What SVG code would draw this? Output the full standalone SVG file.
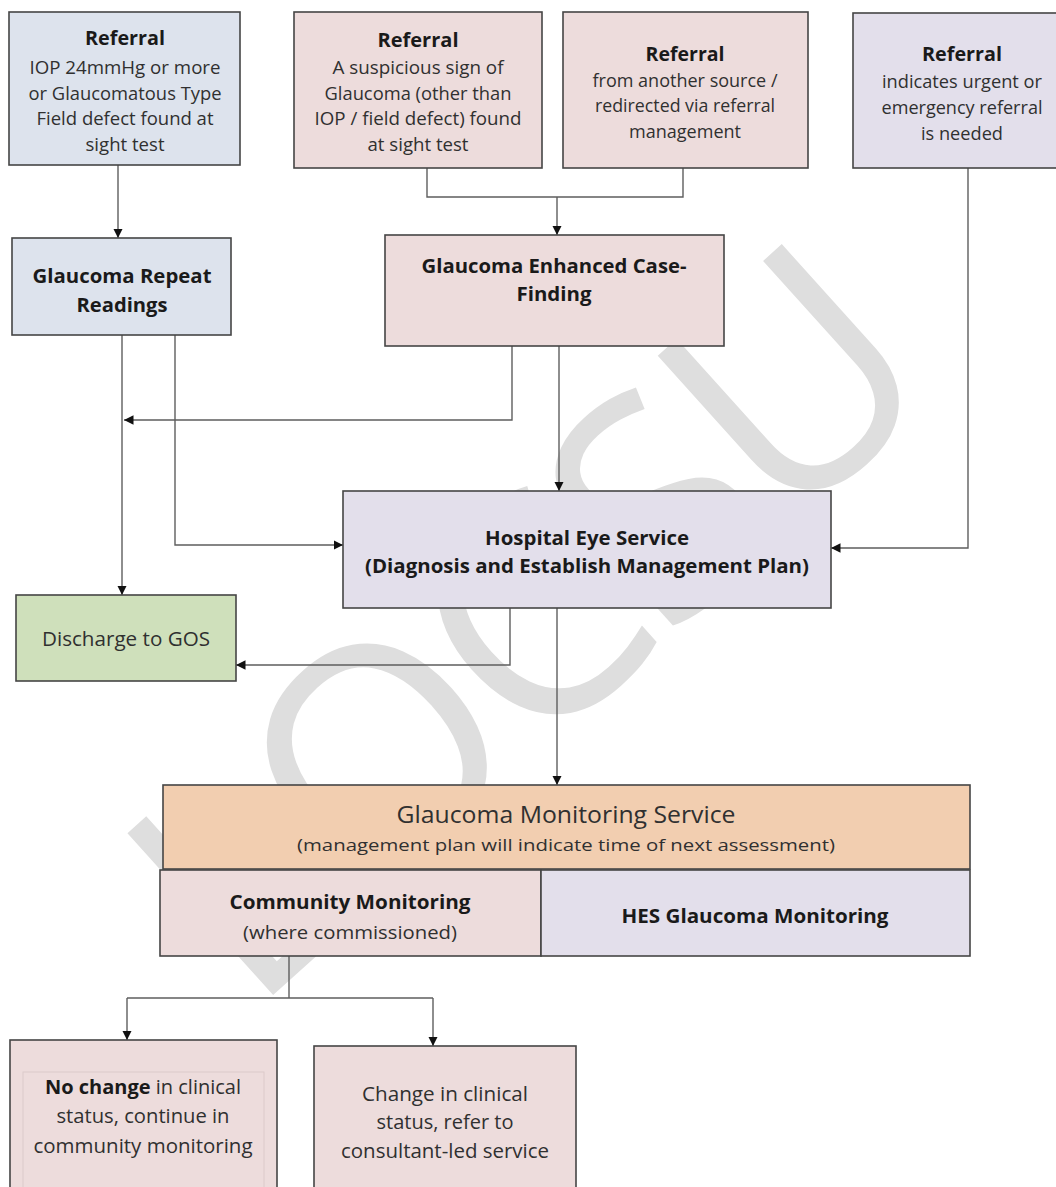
<svg xmlns="http://www.w3.org/2000/svg" width="1056" height="1187" viewBox="0 0 1056 1187">
<defs>
<marker id="ah" markerWidth="11" markerHeight="11" refX="9.5" refY="4.75" orient="auto" markerUnits="userSpaceOnUse"><path d="M0,0 L9.5,4.75 L0,9.5 z" fill="#111"/></marker>
</defs>
<style>
.box{stroke:#454545;stroke-width:1.6}
.blue{fill:#dde3ed}.pink{fill:#eddcdc}.lav{fill:#e3dfeb}.green{fill:#cfe0bb}.peach{fill:#f2ceb0}
text{font-family:"Open Sans","Liberation Sans",sans-serif;text-anchor:middle;fill:#303030}
.b{font-weight:bold;fill:#1a1a1a}
.t{font-size:18.5px}
.h{font-size:20px}
.m{font-size:20px}
.c{fill:none;stroke:#5e5e5e;stroke-width:1.4}
.wm{font-family:"Open Sans",sans-serif;font-size:305px;letter-spacing:-10px;fill:#dedede;text-anchor:start}
</style>
<rect width="1056" height="1187" fill="#ffffff"/>
<text class="wm" transform="translate(251,1015) rotate(-42)">LOCSU</text>

<g id="connectors">
<path class="c" d="M118,165 V238" marker-end="url(#ah)"/>
<path class="c" d="M427,168 V197 H683 V168"/>
<path class="c" d="M557,197 V235" marker-end="url(#ah)"/>
<path class="c" d="M122,335 V595" marker-end="url(#ah)"/>
<path class="c" d="M175,335 V545 H343" marker-end="url(#ah)"/>
<path class="c" d="M512,346 V420 H124" marker-end="url(#ah)"/>
<path class="c" d="M559,346 V491" marker-end="url(#ah)"/>
<path class="c" d="M968,168 V548 H831" marker-end="url(#ah)"/>
<path class="c" d="M510,608 V665 H236" marker-end="url(#ah)"/>
<path class="c" d="M557,608 V785" marker-end="url(#ah)"/>
<path class="c" d="M289,956 V998"/>
<path class="c" d="M127,998 H433"/>
<path class="c" d="M127,998 V1040" marker-end="url(#ah)"/>
<path class="c" d="M433,998 V1046" marker-end="url(#ah)"/>
</g>

<g id="ref-iop">
<rect class="box blue" x="9" y="12" width="231" height="153"/>
<text class="b h" x="125" y="45" textLength="80" lengthAdjust="spacingAndGlyphs">Referral</text>
<text class="t" x="125" y="74" textLength="191" lengthAdjust="spacingAndGlyphs">IOP 24mmHg or more</text>
<text class="t" x="125" y="100" textLength="193" lengthAdjust="spacingAndGlyphs">or Glaucomatous Type</text>
<text class="t" x="125" y="125" textLength="177" lengthAdjust="spacingAndGlyphs">Field defect found at</text>
<text class="t" x="125" y="151" textLength="79" lengthAdjust="spacingAndGlyphs">sight test</text>
</g>

<g id="ref-suspicious">
<rect class="box pink" x="294" y="12" width="248" height="156"/>
<text class="b h" x="418" y="47" textLength="81" lengthAdjust="spacingAndGlyphs">Referral</text>
<text class="t" x="418" y="74" textLength="171" lengthAdjust="spacingAndGlyphs">A suspicious sign of</text>
<text class="t" x="418" y="100" textLength="187" lengthAdjust="spacingAndGlyphs">Glaucoma (other than</text>
<text class="t" x="418" y="125" textLength="207" lengthAdjust="spacingAndGlyphs">IOP / field defect) found</text>
<text class="t" x="418" y="151" textLength="101" lengthAdjust="spacingAndGlyphs">at sight test</text>
</g>

<g id="ref-other">
<rect class="box pink" x="563" y="12" width="245" height="156"/>
<text class="b h" x="685" y="61" textLength="79" lengthAdjust="spacingAndGlyphs">Referral</text>
<text class="t" x="685" y="87" textLength="185" lengthAdjust="spacingAndGlyphs">from another source /</text>
<text class="t" x="685" y="112" textLength="180" lengthAdjust="spacingAndGlyphs">redirected via referral</text>
<text class="t" x="685" y="138" textLength="112" lengthAdjust="spacingAndGlyphs">management</text>
</g>

<g id="ref-urgent">
<rect class="box lav" x="853" y="13" width="220" height="155"/>
<text class="b h" x="962" y="61" textLength="80" lengthAdjust="spacingAndGlyphs">Referral</text>
<text class="t" x="962" y="88" textLength="160" lengthAdjust="spacingAndGlyphs">indicates urgent or</text>
<text class="t" x="962" y="114" textLength="161" lengthAdjust="spacingAndGlyphs">emergency referral</text>
<text class="t" x="962" y="140" textLength="82" lengthAdjust="spacingAndGlyphs">is needed</text>
</g>

<g id="repeat-readings">
<rect class="box blue" x="12" y="238" width="219" height="97"/>
<text class="b h" x="122" y="283" textLength="179" lengthAdjust="spacingAndGlyphs">Glaucoma Repeat</text>
<text class="b h" x="122" y="312" textLength="91" lengthAdjust="spacingAndGlyphs">Readings</text>
</g>

<g id="enhanced-case-finding">
<rect class="box pink" x="385" y="235" width="339" height="111"/>
<text class="b h" x="554" y="273" textLength="265" lengthAdjust="spacingAndGlyphs">Glaucoma Enhanced Case-</text>
<text class="b h" x="554" y="301" textLength="75" lengthAdjust="spacingAndGlyphs">Finding</text>
</g>

<g id="hospital-eye-service">
<rect class="box lav" x="343" y="491" width="488" height="117"/>
<text class="b" style="font-size:19px" x="587" y="545" textLength="204" lengthAdjust="spacingAndGlyphs">Hospital Eye Service</text>
<text class="b" style="font-size:19px" x="587" y="573" textLength="444" lengthAdjust="spacingAndGlyphs">(Diagnosis and Establish Management Plan)</text>
</g>

<g id="discharge">
<rect class="box green" x="16" y="595" width="220" height="86"/>
<text class="m" x="126" y="646" textLength="168" lengthAdjust="spacingAndGlyphs">Discharge to GOS</text>
</g>

<g id="monitoring-service">
<rect class="box peach" x="163" y="785" width="807" height="84"/>
<text style="font-size:23px" x="566" y="823" textLength="339" lengthAdjust="spacingAndGlyphs">Glaucoma Monitoring Service</text>
<text style="font-size:17px" x="566" y="851" textLength="538" lengthAdjust="spacingAndGlyphs">(management plan will indicate time of next assessment)</text>
</g>

<g id="community-monitoring">
<rect class="box pink" x="160" y="870" width="381" height="86"/>
<text class="b" style="font-size:19px" x="350" y="909" textLength="241" lengthAdjust="spacingAndGlyphs">Community Monitoring</text>
<text style="font-size:17.5px" x="350" y="939" textLength="214" lengthAdjust="spacingAndGlyphs">(where commissioned)</text>
</g>

<g id="hes-monitoring">
<rect class="box lav" x="541" y="870" width="429" height="86"/>
<text class="b" style="font-size:19px" x="755" y="923" textLength="267" lengthAdjust="spacingAndGlyphs">HES Glaucoma Monitoring</text>
</g>

<g id="no-change">
<rect class="box pink" x="10" y="1040" width="267" height="170"/>
<rect x="23" y="1072" width="241" height="140" fill="none" stroke="#dccaca" stroke-width="1"/>
<text class="m" x="143" y="1094"><tspan class="b">No change</tspan> in clinical</text>
<text class="m" x="143" y="1123" textLength="173" lengthAdjust="spacingAndGlyphs">status, continue in</text>
<text class="m" x="143" y="1153" textLength="219" lengthAdjust="spacingAndGlyphs">community monitoring</text>
</g>

<g id="change">
<rect class="box pink" x="314" y="1046" width="262" height="170"/>
<text class="m" x="445" y="1101" textLength="166" lengthAdjust="spacingAndGlyphs">Change in clinical</text>
<text class="m" x="445" y="1129" textLength="137" lengthAdjust="spacingAndGlyphs">status, refer to</text>
<text class="m" x="445" y="1158" textLength="208" lengthAdjust="spacingAndGlyphs">consultant-led service</text>
</g>
</svg>
